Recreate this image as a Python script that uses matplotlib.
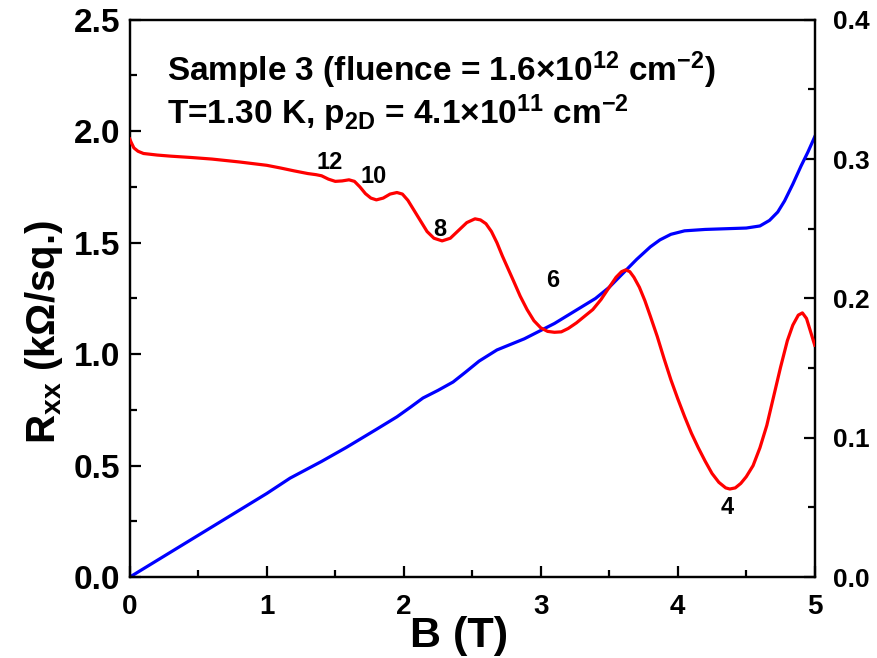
import numpy as np
import matplotlib
matplotlib.use("Agg")
import matplotlib.pyplot as plt
from matplotlib.ticker import MultipleLocator, FormatStrFormatter

plt.rcParams["font.family"] = ["Liberation Sans", "DejaVu Sans"]
plt.rcParams["font.weight"] = "bold"
plt.rcParams["mathtext.fontset"] = "custom"
plt.rcParams["mathtext.rm"] = "Liberation Sans:bold"
plt.rcParams["mathtext.it"] = "Liberation Sans:bold"
plt.rcParams["mathtext.bf"] = "Liberation Sans:bold"

# ── data ──────────────────────────────────────────────────────────────────────
b_rxx = [0.00, 0.01, 0.03, 0.06, 0.10, 0.20, 0.30, 0.45, 0.60, 0.80, 1.00, 1.10,
         1.20, 1.30, 1.36, 1.40, 1.45, 1.50, 1.55, 1.60, 1.64, 1.68, 1.72, 1.76,
         1.80, 1.85, 1.90, 1.95, 1.99, 2.03, 2.07, 2.12, 2.17, 2.22, 2.28, 2.34,
         2.40, 2.46, 2.52, 2.56, 2.60, 2.64, 2.68, 2.72, 2.76, 2.80, 2.85, 2.90,
         2.95, 3.00, 3.05, 3.10, 3.15, 3.20, 3.26, 3.32, 3.38, 3.44, 3.50, 3.55,
         3.59, 3.62, 3.65, 3.68, 3.72, 3.76, 3.80, 3.85, 3.90, 3.95, 4.00, 4.05,
         4.10, 4.15, 4.20, 4.25, 4.30, 4.35, 4.38, 4.42, 4.46, 4.50, 4.55, 4.60,
         4.65, 4.70, 4.75, 4.80, 4.84, 4.88, 4.91, 4.94, 4.97, 5.00]
rxx = [1.965, 1.95, 1.925, 1.91, 1.90, 1.893, 1.888, 1.882, 1.875, 1.862, 1.847, 1.835,
       1.822, 1.81, 1.805, 1.80, 1.785, 1.775, 1.777, 1.782, 1.775, 1.75, 1.72, 1.70,
       1.692, 1.70, 1.718, 1.725, 1.718, 1.69, 1.65, 1.60, 1.55, 1.52, 1.508, 1.52,
       1.555, 1.59, 1.607, 1.602, 1.585, 1.55, 1.50, 1.44, 1.385, 1.33, 1.26, 1.20,
       1.15, 1.118, 1.102, 1.098, 1.10, 1.115, 1.14, 1.17, 1.20, 1.245, 1.30, 1.345,
       1.37, 1.378, 1.37, 1.345, 1.30, 1.24, 1.17, 1.08, 0.98, 0.885, 0.80, 0.72,
       0.645, 0.58, 0.52, 0.465, 0.425, 0.40, 0.395, 0.40, 0.42, 0.45, 0.50, 0.58,
       0.68, 0.81, 0.94, 1.06, 1.13, 1.175, 1.185, 1.16, 1.10, 1.04]

b_rxy = [0.00, 0.25, 0.50, 0.75, 1.00, 1.17, 1.40, 1.58, 1.80, 1.95, 2.05, 2.14,
         2.25, 2.36, 2.45, 2.55, 2.68, 2.78, 2.88, 3.00, 3.10, 3.20, 3.30, 3.40,
         3.50, 3.61, 3.70, 3.80, 3.87, 3.95, 4.05, 4.20, 4.35, 4.50, 4.60, 4.67,
         4.73, 4.78, 4.84, 4.90, 4.95, 5.00]
rxy = [0.000, 0.015, 0.030, 0.045, 0.060, 0.071, 0.083, 0.093, 0.106, 0.115, 0.122, 0.1285,
       0.134, 0.140, 0.147, 0.155, 0.163, 0.167, 0.171, 0.177, 0.182, 0.188, 0.194, 0.200,
       0.208, 0.219, 0.228, 0.237, 0.242, 0.246, 0.2485, 0.2495, 0.250, 0.2505, 0.252, 0.256,
       0.262, 0.270, 0.282, 0.295, 0.305, 0.316]

fill_labels = ["12", "10", "8", "6", "4"]
fill_b = [1.46, 1.78, 2.26, 3.09, 4.36]
fill_r = [1.86, 1.795, 1.56, 1.33, 0.31]

# ── figure ────────────────────────────────────────────────────────────────────
fig = plt.figure(figsize=(8.77, 6.58), dpi=100)
ax = fig.add_axes([0.148, 0.123, 0.781, 0.847])
ax2 = ax.twinx()

ax.plot(b_rxx, rxx, color="#ff0000", lw=2.3, zorder=3, solid_joinstyle="round")
ax2.plot(b_rxy, rxy, color="#0000ff", lw=2.3, zorder=2, solid_joinstyle="round")
ax.set_zorder(ax2.get_zorder() + 1)
ax.patch.set_visible(False)

ax.set_xlim(0, 5)
ax.set_ylim(0, 2.5)
ax2.set_ylim(0, 0.4)

ax.xaxis.set_major_locator(MultipleLocator(1))
ax.xaxis.set_minor_locator(MultipleLocator(0.5))
ax.yaxis.set_major_locator(MultipleLocator(0.5))
ax.yaxis.set_minor_locator(MultipleLocator(0.25))
ax2.yaxis.set_major_locator(MultipleLocator(0.1))
ax2.yaxis.set_minor_locator(MultipleLocator(0.05))

for a in (ax, ax2):
    for s in a.spines.values():
        s.set_linewidth(1.6)
    a.tick_params(which="both", direction="in", width=1.6)
    a.tick_params(which="major", length=8)
    a.tick_params(which="minor", length=5)

ax.tick_params(axis="x", labelsize=20, pad=12)
ax.tick_params(axis="y", labelsize=24, pad=7)
ax2.tick_params(axis="y", labelsize=19, pad=13)
ax.yaxis.set_major_formatter(FormatStrFormatter("%.1f"))
ax2.yaxis.set_major_formatter(FormatStrFormatter("%.1f"))

ax.set_xlabel("B (T)", fontsize=31, fontweight="bold")
ax.xaxis.set_label_coords(0.48, -0.07)
ax.set_ylabel(r"R$_{\mathregular{xx}}$ (kΩ/sq.)", fontsize=29, fontweight="bold")
ax.yaxis.set_label_coords(-0.095, 0.44)

for lbl, xb, yr in zip(fill_labels, fill_b, fill_r):
    ax.text(xb, yr, lbl, fontsize=17, fontweight="bold", ha="center", va="center")

ax.text(0.055, 0.91, r"Sample 3 (fluence = 1.6×10$^{12}$ cm$^{-2}$)",
        transform=ax.transAxes, fontsize=24, fontweight="bold", va="center")
ax.text(0.055, 0.833, r"T=1.30 K, p$_{2D}$ = 4.1×10$^{11}$ cm$^{-2}$",
        transform=ax.transAxes, fontsize=24, fontweight="bold", va="center")

fig.savefig("out.png", dpi=100)
